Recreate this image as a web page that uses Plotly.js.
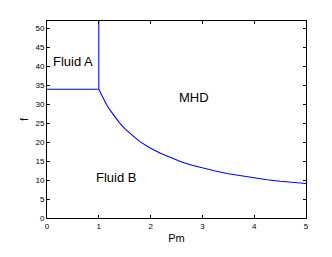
<!DOCTYPE html>
<html>
<head>
<meta charset="utf-8">
<script src="https://cdn.plot.ly/plotly-3.0.1.min.js"></script>
<style>html,body{margin:0;padding:0;background:#fff;}#chart{width:332px;height:257px;}</style>
</head>
<body>
<div id="chart"></div>
<script>
// Boundary between Fluid A and Fluid B (horizontal segment)
const boundaryAB_pm = [0, 1];
const boundaryAB_f = [34, 34];
// Boundary between Fluid A and MHD (vertical segment)
const boundaryAM_pm = [1, 1];
const boundaryAM_f = [34, 52];
// Boundary between Fluid B and MHD (curve)
const curve_pm = [1.0, 1.05, 1.1, 1.15, 1.2, 1.3, 1.4, 1.5, 1.6, 1.7, 1.8, 1.9, 2.0, 2.2, 2.4, 2.6, 2.8, 3.0, 3.25, 3.5, 3.75, 4.0, 4.25, 4.5, 4.75, 5.0];
const curve_f  = [34.0, 32.5, 31.2, 29.9, 28.8, 26.8, 25.1, 23.6, 22.3, 21.2, 20.1, 19.2, 18.4, 17.0, 15.8, 14.8, 13.9, 13.2, 12.4, 11.7, 11.1, 10.6, 10.1, 9.7, 9.4, 9.1];
// Region labels
const regionNames = ["Fluid A", "MHD", "Fluid B"];
const regionPm = [0.51, 2.84, 1.34];
const regionF = [41.3, 31.9, 10.7];

const lineStyle = {color: '#0000ff', width: 1.1};
const traces = [
  {x: boundaryAB_pm, y: boundaryAB_f, mode: 'lines', line: lineStyle, hoverinfo: 'skip'},
  {x: boundaryAM_pm, y: boundaryAM_f, mode: 'lines', line: lineStyle, hoverinfo: 'skip'},
  {x: curve_pm, y: curve_f, mode: 'lines', line: lineStyle, hoverinfo: 'skip'}
];

const annotations = regionNames.map((t, i) => ({
  x: regionPm[i], y: regionF[i], xref: 'x', yref: 'y', text: t, showarrow: false,
  font: {family: 'Liberation Sans, Arial, sans-serif', size: 13, color: '#000'}
}));

const axisCommon = {
  showgrid: false, zeroline: false, showline: true, linecolor: '#000', linewidth: 1,
  mirror: 'ticks', ticks: 'inside', ticklen: 3, tickcolor: '#000', tickwidth: 1,
  tickfont: {family: 'Liberation Sans, Arial, sans-serif', size: 8, color: '#000'}
};

const layout = {
  width: 332, height: 257,
  margin: {l: 47, r: 26, t: 21, b: 39, pad: 0},
  paper_bgcolor: '#fff', plot_bgcolor: '#fff',
  showlegend: false,
  xaxis: Object.assign({}, axisCommon, {
    range: [0, 5], tickmode: 'linear', tick0: 0, dtick: 1,
    title: {text: 'Pm', font: {family: 'Liberation Sans, Arial, sans-serif', size: 11, color: '#000'}, standoff: 4}
  }),
  yaxis: Object.assign({}, axisCommon, {
    range: [0, 52], tickmode: 'linear', tick0: 0, dtick: 5,
    title: {text: 'f', font: {family: 'Liberation Sans, Arial, sans-serif', size: 11, color: '#000'}, standoff: 4}
  }),
  annotations: annotations
};

Plotly.newPlot('chart', traces, layout, {staticPlot: true, displayModeBar: false});
</script>
</body>
</html>
